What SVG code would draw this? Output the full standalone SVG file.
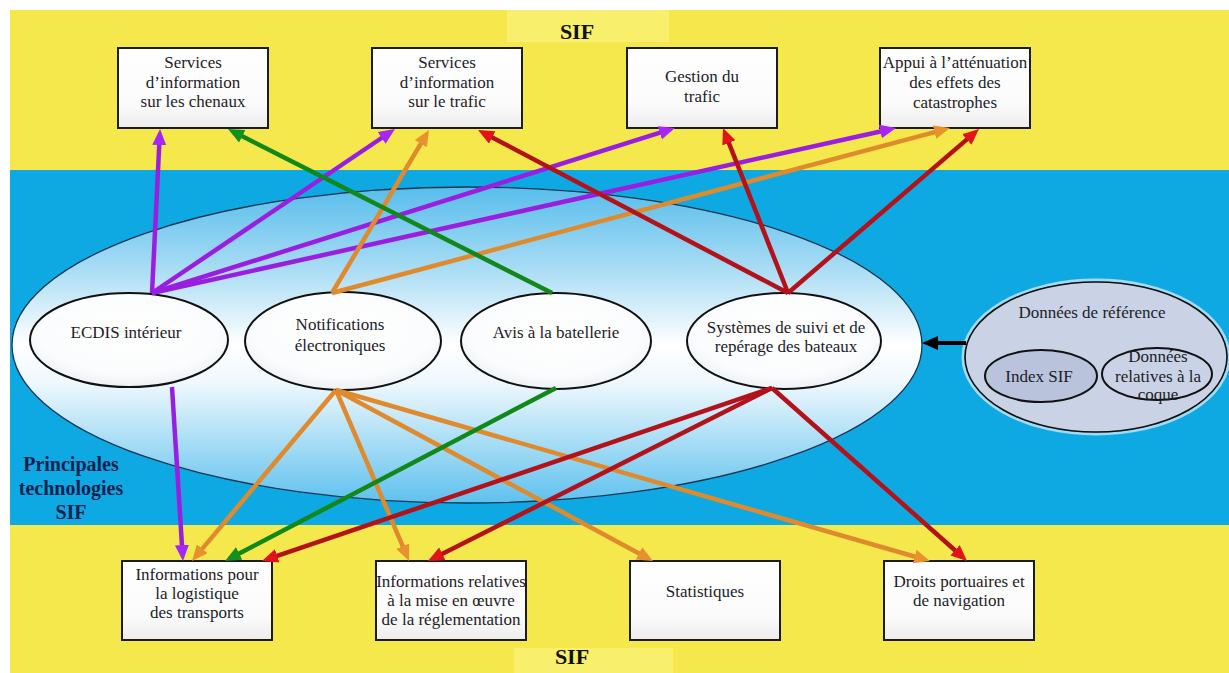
<svg xmlns="http://www.w3.org/2000/svg" width="1229" height="673" viewBox="0 0 1229 673">
  <style>
    .box { fill: url(#boxFill); stroke: #1c1c1c; stroke-width: 2; }
    .tech { fill: url(#techFill); stroke: #111; stroke-width: 2; }
    .t { font-family: "Liberation Serif", "Times New Roman", serif; font-size: 17px; fill: #1c1c28; text-anchor: middle; }
    .big { font-family: "Liberation Serif", "Times New Roman", serif; font-weight: bold; fill: #111; text-anchor: middle; }
    .lbl { font-family: "Liberation Serif", "Times New Roman", serif; font-weight: bold; font-size: 20px; fill: #0b1f4f; text-anchor: middle; }
    .c { fill: none; stroke-width: 4.5; stroke-linecap: butt; }
    .p { stroke: #9a1ee0; marker-end: url(#mP); }
    .o { stroke: #e08a2e; marker-end: url(#mO); }
    .g { stroke: #12881a; marker-end: url(#mG); }
    .r { stroke: #b3121a; marker-end: url(#mR); }
  </style>
  <defs>
    <linearGradient id="boxFill" x1="0" y1="0" x2="0" y2="1">
      <stop offset="0" stop-color="#ffffff"/>
      <stop offset="0.7" stop-color="#fbfbfb"/>
      <stop offset="1" stop-color="#ececec"/>
    </linearGradient>
    <radialGradient id="techFill" cx="0.5" cy="0.4" r="0.65">
      <stop offset="0" stop-color="#ffffff"/>
      <stop offset="0.7" stop-color="#fbfcfd"/>
      <stop offset="1" stop-color="#e8eef2"/>
    </radialGradient>
    <linearGradient id="bigFill" x1="0" y1="0" x2="0" y2="1">
      <stop offset="0" stop-color="#58bdec"/>
      <stop offset="0.25" stop-color="#a6dbf4"/>
      <stop offset="0.5" stop-color="#ffffff"/>
      <stop offset="0.62" stop-color="#eef8fd"/>
      <stop offset="1" stop-color="#5fc1ee"/>
    </linearGradient>
    <marker id="mP" markerUnits="userSpaceOnUse" markerWidth="18" markerHeight="16" refX="7" refY="7" orient="auto">
      <path d="M0,0 L16,7 L0,14 z" fill="#a626f5"/>
    </marker>
    <marker id="mO" markerUnits="userSpaceOnUse" markerWidth="18" markerHeight="16" refX="7" refY="7" orient="auto">
      <path d="M0,0 L16,7 L0,14 z" fill="#e8922e"/>
    </marker>
    <marker id="mG" markerUnits="userSpaceOnUse" markerWidth="18" markerHeight="16" refX="7" refY="7" orient="auto">
      <path d="M0,0 L16,7 L0,14 z" fill="#14901c"/>
    </marker>
    <marker id="mR" markerUnits="userSpaceOnUse" markerWidth="18" markerHeight="16" refX="7" refY="7" orient="auto">
      <path d="M0,0 L16,7 L0,14 z" fill="#e0141a"/>
    </marker>
    <marker id="mK" markerUnits="userSpaceOnUse" markerWidth="18" markerHeight="16" refX="7" refY="7" orient="auto">
      <path d="M0,0 L16,7 L0,14 z" fill="#000"/>
    </marker>
  </defs>

  <!-- background -->
  <rect x="0" y="0" width="1229" height="673" fill="#ffffff"/>
  <rect x="10" y="10" width="1219" height="663" fill="#f4e84c"/>
  <rect x="507" y="10" width="162" height="32" fill="#f8ef6c"/>
  <rect x="514" y="648" width="159" height="25" fill="#f8ef6c"/>
  <rect x="10" y="170" width="1219" height="355" fill="#0ea9e2"/>

  <text class="big" x="577" y="39" font-size="22">SIF</text>
  <text class="big" x="572" y="664" font-size="22">SIF</text>

  <g id="principales">
    <text class="lbl" x="71" y="471">Principales</text>
    <text class="lbl" x="71" y="495">technologies</text>
    <text class="lbl" x="71" y="519">SIF</text>
  </g>

  <!-- main technologies ellipse -->
  <g id="technologies">
    <ellipse cx="467" cy="345" rx="455" ry="158" fill="url(#bigFill)" stroke="#1b3550" stroke-width="1.3"/>
  </g>

  <g id="ecdis">
    <ellipse class="tech" cx="129" cy="340" rx="99" ry="47"/>
    <text class="t" x="126" y="338">ECDIS intérieur</text>
  </g>
  <g id="notifications">
    <ellipse class="tech" cx="343" cy="341" rx="98" ry="49"/>
    <text class="t" x="340" y="330">Notifications</text>
    <text class="t" x="340" y="351">électroniques</text>
  </g>
  <g id="avis">
    <ellipse class="tech" cx="556" cy="341" rx="95" ry="48"/>
    <text class="t" x="556" y="338">Avis à la batellerie</text>
  </g>
  <g id="systemes">
    <ellipse class="tech" cx="784" cy="341" rx="97" ry="48"/>
    <text class="t" x="786" y="333" font-size="16.5">Systèmes de suivi et de</text>
    <text class="t" x="786" y="352" font-size="16.5">repérage des bateaux</text>
  </g>

  <g id="donnees-reference">
    <ellipse cx="1096" cy="357" rx="133" ry="77" fill="none" stroke="#e6eef8" stroke-width="3" opacity="0.7"/>
    <ellipse cx="1096" cy="357" rx="131" ry="75" fill="#c9d3e5" stroke="#111" stroke-width="1.6"/>
    <text class="t" x="1092" y="318">Données de référence</text>
  </g>
  <g id="index-sif">
    <ellipse cx="1041" cy="376" rx="56" ry="26" fill="#b9c4dc" stroke="#111" stroke-width="2"/>
    <text class="t" x="1039" y="382">Index SIF</text>
  </g>
  <g id="donnees-coque">
    <ellipse cx="1157" cy="374" rx="55" ry="26" fill="#c9d3e5" stroke="#111" stroke-width="2"/>
    <text class="t" x="1158" y="362">Données</text>
    <text class="t" x="1158" y="382">relatives à la</text>
    <text class="t" x="1158" y="400">coque</text>
  </g>

  <!-- top service boxes -->
  <g id="chenaux">
    <rect class="box" x="118" y="48" width="150" height="80"/>
    <text class="t" x="193" y="68">Services</text>
    <text class="t" x="193" y="88">d’information</text>
    <text class="t" x="193" y="107">sur les chenaux</text>
  </g>
  <g id="info-trafic">
    <rect class="box" x="372" y="48" width="150" height="80"/>
    <text class="t" x="447" y="68">Services</text>
    <text class="t" x="447" y="88">d’information</text>
    <text class="t" x="447" y="107">sur le trafic</text>
  </g>
  <g id="gestion-trafic">
    <rect class="box" x="627" y="48" width="150" height="80"/>
    <text class="t" x="702" y="82">Gestion du</text>
    <text class="t" x="702" y="102">trafic</text>
  </g>
  <g id="catastrophes">
    <rect class="box" x="880" y="48" width="150" height="80"/>
    <text class="t" x="955" y="68">Appui à l’atténuation</text>
    <text class="t" x="955" y="88">des effets des</text>
    <text class="t" x="955" y="108">catastrophes</text>
  </g>

  <!-- bottom service boxes -->
  <g id="logistique">
    <rect class="box" x="122" y="561" width="150" height="79"/>
    <text class="t" x="197" y="580">Informations pour</text>
    <text class="t" x="197" y="599">la logistique</text>
    <text class="t" x="197" y="618">des transports</text>
  </g>
  <g id="reglementation">
    <rect class="box" x="376" y="561" width="150" height="79"/>
    <text class="t" x="451" y="587">Informations relatives</text>
    <text class="t" x="451" y="606">à la mise en œuvre</text>
    <text class="t" x="451" y="625">de la réglementation</text>
  </g>
  <g id="statistiques">
    <rect class="box" x="630" y="561" width="150" height="79"/>
    <text class="t" x="705" y="597">Statistiques</text>
  </g>
  <g id="droits">
    <rect class="box" x="884" y="561" width="150" height="79"/>
    <text class="t" x="959" y="587">Droits portuaires et</text>
    <text class="t" x="959" y="606">de navigation</text>
  </g>

  <!-- connectors -->
  <g id="connectors">
    <line class="c p" x1="152" y1="293" x2="159.6" y2="138"/>
    <line class="c p" x1="152" y1="293" x2="387.5" y2="134"/>
    <line class="c p" x1="152" y1="293" x2="666.4" y2="130.7"/>
    <line class="c p" x1="152" y1="293" x2="887.2" y2="130"/>
    <line class="c p" x1="172" y1="387" x2="182.4" y2="552"/>

    <line class="c o" x1="332" y1="293" x2="424.4" y2="137.7"/>
    <line class="c o" x1="332" y1="293" x2="941.3" y2="130.3"/>
    <line class="c o" x1="336" y1="390" x2="197.8" y2="554.1"/>
    <line class="c o" x1="336" y1="390" x2="405.5" y2="552.7"/>
    <line class="c o" x1="336" y1="390" x2="645.1" y2="556.7"/>
    <line class="c o" x1="336" y1="390" x2="921.4" y2="558.5"/>

    <line class="c g" x1="552" y1="293" x2="236" y2="133.1"/>
    <line class="c g" x1="556" y1="388" x2="233" y2="556.8"/>

    <line class="c r" x1="788" y1="293" x2="486" y2="134.2"/>
    <line class="c r" x1="788" y1="293" x2="726.3" y2="136.4"/>
    <line class="c r" x1="788" y1="293" x2="972.2" y2="134.9"/>
    <line class="c r" x1="772" y1="388" x2="270.5" y2="558.1"/>
    <line class="c r" x1="772" y1="388" x2="436" y2="557"/>
    <line class="c r" x1="772" y1="388" x2="960.3" y2="555"/>

    <line x1="966" y1="343" x2="931" y2="343" stroke="#000" stroke-width="4" marker-end="url(#mK)"/>
  </g>
</svg>
